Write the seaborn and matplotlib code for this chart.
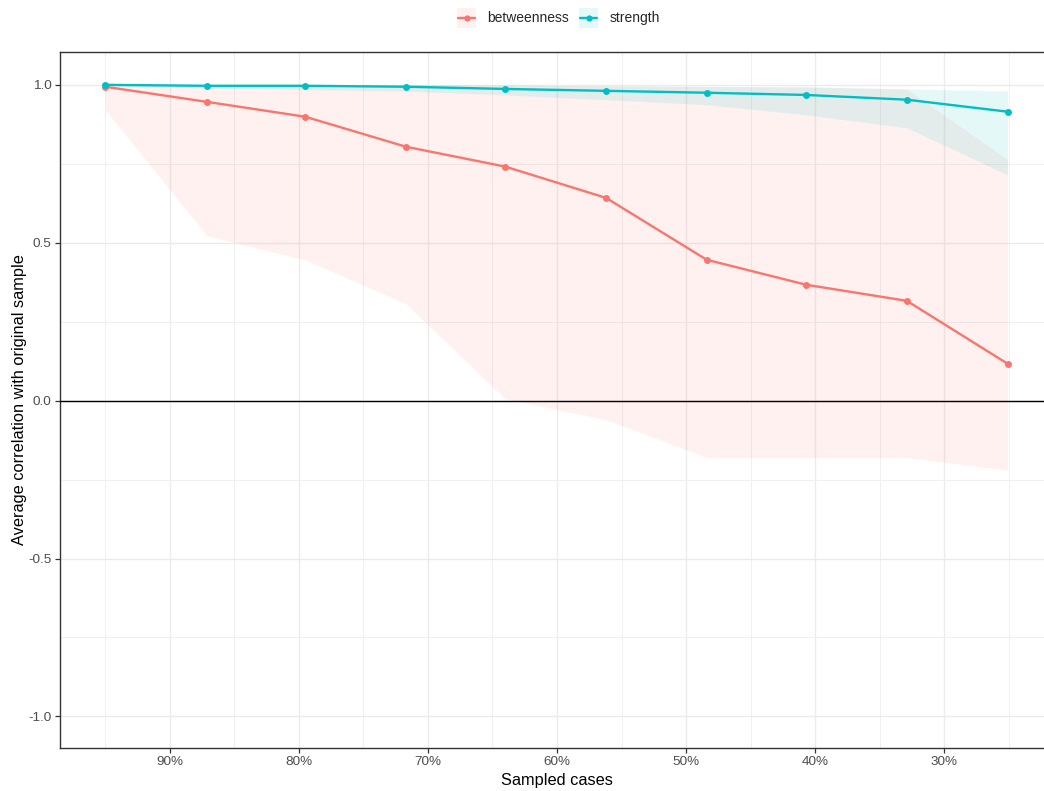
import numpy as np
import pandas as pd
import matplotlib
matplotlib.use("Agg")
import matplotlib.pyplot as plt
import seaborn as sns
from matplotlib.patches import Rectangle
from matplotlib.lines import Line2D
from matplotlib.legend_handler import HandlerBase
from matplotlib.ticker import FixedLocator, PercentFormatter

# ---- data ----
sampled = [0.950, 0.871, 0.795, 0.717, 0.640, 0.562, 0.484, 0.407, 0.329, 0.251]
betweenness_mean = [0.994, 0.946, 0.899, 0.804, 0.741, 0.642, 0.446, 0.367, 0.316, 0.117]
betweenness_lower = [0.921, 0.522, 0.446, 0.307, 0.006, -0.060, -0.180, -0.180, -0.180, -0.220]
betweenness_upper = [1.000, 1.000, 1.000, 1.000, 0.998, 0.997, 0.995, 0.993, 0.987, 0.763]
strength_mean = [1.000, 0.997, 0.997, 0.994, 0.987, 0.981, 0.975, 0.968, 0.953, 0.915]
strength_lower = [0.998, 0.990, 0.985, 0.980, 0.968, 0.953, 0.937, 0.905, 0.864, 0.715]
strength_upper = [1.000, 1.000, 1.000, 1.000, 1.000, 0.997, 0.995, 0.994, 0.987, 0.981]
measures = ["betweenness", "strength"]
colors = ["#F8766D", "#00BFC4"]
x_ticks = [0.9, 0.8, 0.7, 0.6, 0.5, 0.4, 0.3]
y_ticks = [-1.0, -0.5, 0.0, 0.5, 1.0]

df = pd.DataFrame({
    "sampled": sampled * 2,
    "corr": betweenness_mean + strength_mean,
    "lower": betweenness_lower + strength_lower,
    "upper": betweenness_upper + strength_upper,
    "measure": ["betweenness"] * len(sampled) + ["strength"] * len(sampled),
})

sns.set_theme(style="white")
plt.rcParams["font.family"] = ["Liberation Sans", "DejaVu Sans"]

fig = plt.figure(figsize=(10.44, 7.91), dpi=100)
W, H = 1044, 791
ax = fig.add_axes([60 / W, 1 - 748 / H, (1054 - 60) / W, (748 - 52) / H])

# ribbons
for m, c in zip(measures, colors):
    d = df[df.measure == m]
    ax.fill_between(d["sampled"], d["lower"], d["upper"], color=c, alpha=0.1,
                    linewidth=0, zorder=2)

ax.axhline(0, color="black", lw=1.0, zorder=3)

sns.lineplot(data=df, x="sampled", y="corr", hue="measure", palette=colors,
             hue_order=measures, marker="o", markersize=5, markeredgewidth=0,
             linewidth=1.7, ax=ax, legend=False, zorder=4)

ax.set_xlim(0.985, 0.215)
ax.set_ylim(-1.1, 1.104)

ax.xaxis.set_major_locator(FixedLocator(x_ticks))
ax.xaxis.set_minor_locator(FixedLocator([0.95, 0.85, 0.75, 0.65, 0.55, 0.45, 0.35, 0.25]))
ax.xaxis.set_major_formatter(PercentFormatter(1.0, decimals=0))
ax.yaxis.set_major_locator(FixedLocator(y_ticks))
ax.yaxis.set_minor_locator(FixedLocator([-0.75, -0.25, 0.25, 0.75]))
ax.set_yticklabels([f"{v:.1f}" for v in y_ticks])

ax.grid(which="major", color="#EBEBEB", lw=1.0, zorder=0)
ax.grid(which="minor", color="#F0F0F0", lw=0.7, zorder=0)
ax.set_axisbelow(True)

for s in ax.spines.values():
    s.set_color("#333333")
    s.set_linewidth(1.0)

ax.tick_params(axis="both", which="major", length=3.5, width=0.9, color="#333333",
               labelsize=9.7, labelcolor="#4D4D4D", pad=2.5, bottom=True, left=True)
ax.tick_params(axis="both", which="minor", length=0)

ax.set_xlabel("Sampled cases", fontsize=11.8, color="black", labelpad=3)
ax.set_ylabel("Average correlation with original sample", fontsize=11.8,
              color="black", labelpad=1)


class KeyHandler(HandlerBase):
    """ggplot-like legend key: shaded square with line + point across it."""
    def create_artists(self, legend, orig_handle, xdescent, ydescent, width,
                       height, fontsize, trans):
        c = orig_handle.get_color()
        side = height
        x0 = -xdescent + (width - side) / 2
        y0 = -ydescent
        rect = Rectangle((x0, y0), side, side, facecolor=c, alpha=0.1,
                         edgecolor="none", transform=trans)
        yc = y0 + side / 2
        ln = Line2D([x0 + 1, x0 + side - 1], [yc, yc], color=c, lw=1.7,
                    transform=trans)
        pt = Line2D([x0 + side / 2], [yc], color=c, marker="o", markersize=4.5,
                    markeredgewidth=0, linestyle="none", transform=trans)
        return [rect, ln, pt]


handles = [Line2D([], [], color=c) for c in colors]
fig.legend(handles, measures, handler_map={Line2D: KeyHandler()},
           loc="center", bbox_to_anchor=(557 / W, 1 - 18 / H), ncol=2, frameon=False,
           fontsize=10, handlelength=1.8, handleheight=1.8, columnspacing=0.5,
           handletextpad=0.6, borderaxespad=0)

fig.savefig("out.png", dpi=100)
